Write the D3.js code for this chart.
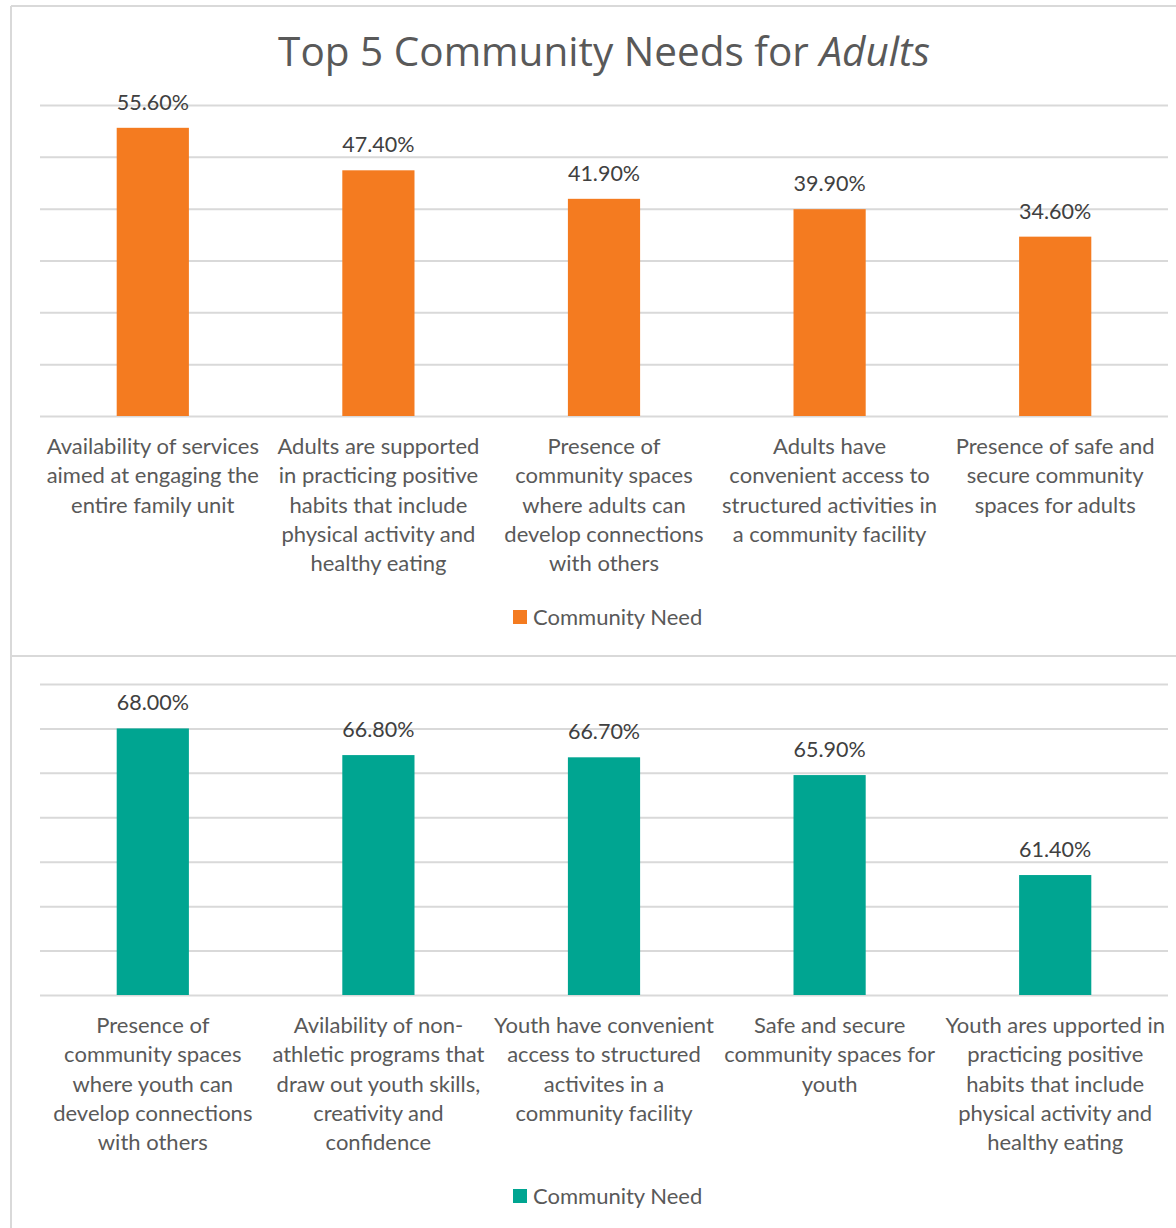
<!DOCTYPE html>
<html>
<head>
<meta charset="utf-8">
<script src="https://cdn.jsdelivr.net/npm/d3@7"></script>
<style>
  html, body { margin: 0; padding: 0; background: #fff; }
  svg { display: block; }
</style>
</head>
<body>
<svg id="chart" width="1176" height="1228"></svg>
<script>
// Adults panel
const adultCategories = [
  ["Availability of services", "aimed at engaging the", "entire family unit"],
  ["Adults are supported", "in practicing positive", "habits that include", "physical activity and", "healthy eating"],
  ["Presence of", "community spaces", "where adults can", "develop connections", "with others"],
  ["Adults have", "convenient access to", "structured activities in", "a community facility"],
  ["Presence of safe and", "secure community", "spaces for adults"]
];
const adultValues = [55.6, 47.4, 41.9, 39.9, 34.6];
const adultTicks = [0, 10, 20, 30, 40, 50, 60];

// Youth panel
const youthCategories = [
  ["Presence of", "community spaces", "where youth can", "develop connections", "with others"],
  ["Avilability of non-", "athletic programs that", "draw out youth skills,", "creativity and", "confidence"],
  ["Youth have convenient", "access to structured", "activites in a", "community facility"],
  ["Safe and secure", "community spaces for", "youth"],
  ["Youth ares upported in", "practicing positive", "habits that include", "physical activity and", "healthy eating"]
];
const youthValues = [68.0, 66.8, 66.7, 65.9, 61.4];
const youthTicks = [56, 58, 60, 62, 64, 66, 68, 70];

const seriesName = "Community Need";

const svg = d3.select("#chart");
const textColor = "#595959";
const gridColor = "#d9d9d9";
const labelFont = "Lato, 'Open Sans', sans-serif";

// panel frame
svg.append("line").attr("x1", 11).attr("x2", 11).attr("y1", 6).attr("y2", 1228)
  .attr("stroke", gridColor).attr("stroke-width", 2);
svg.append("line").attr("x1", 11).attr("x2", 1176).attr("y1", 6).attr("y2", 6)
  .attr("stroke", gridColor).attr("stroke-width", 2);
svg.append("line").attr("x1", 11).attr("x2", 1176).attr("y1", 656).attr("y2", 656)
  .attr("stroke", gridColor).attr("stroke-width", 2);

// title
const title = svg.append("text")
  .attr("x", 604).attr("y", 66)
  .attr("text-anchor", "middle")
  .attr("fill", textColor)
  .style("font-family", "'Open Sans', sans-serif")
  .style("font-size", "40.5px");
title.append("tspan").text("Top 5 Community Needs for ");
title.append("tspan").style("font-style", "italic").text("Adults");

function drawPanel(cfg) {
  const left = 40, right = 1168;
  const x = d3.scaleBand()
    .domain(d3.range(cfg.values.length))
    .range([left, right])
    .padding(0);
  const barW = x.bandwidth() * 0.32;
  const y = d3.scaleLinear()
    .domain(d3.extent(cfg.ticks))
    .range([cfg.bottom, cfg.top]);

  const g = svg.append("g");

  // gridlines via axis
  const axis = d3.axisLeft(y).tickValues(cfg.ticks).tickSize(-(right - left)).tickFormat("");
  const ag = g.append("g").attr("transform", `translate(${left},0)`).call(axis);
  ag.select(".domain").remove();
  ag.selectAll(".tick line").attr("stroke", gridColor).attr("stroke-width", 2);

  // bars
  g.selectAll("rect.bar").data(cfg.values).enter().append("rect")
    .attr("class", "bar")
    .attr("x", (d, i) => x(i) + (x.bandwidth() - barW) / 2)
    .attr("width", barW)
    .attr("y", d => y(d))
    .attr("height", d => y(y.domain()[0]) - y(d))
    .attr("fill", cfg.color);

  // value labels
  g.selectAll("text.val").data(cfg.values).enter().append("text")
    .attr("class", "val")
    .attr("x", (d, i) => x(i) + x.bandwidth() / 2)
    .attr("y", d => y(d) - 18)
    .attr("text-anchor", "middle")
    .attr("fill", "#404040")
    .style("font-family", labelFont)
    .style("font-size", "21.5px")
    .text(d => d.toFixed(2) + "%");

  // category labels
  cfg.categories.forEach((lines, i) => {
    const t = g.append("text")
      .attr("x", x(i) + x.bandwidth() / 2)
      .attr("y", cfg.bottom + 38)
      .attr("text-anchor", "middle")
      .attr("fill", textColor)
      .style("font-family", labelFont)
      .style("font-size", "22px");
    lines.forEach((ln, k) => {
      t.append("tspan")
        .attr("x", x(i) + x.bandwidth() / 2)
        .attr("dy", k === 0 ? 0 : 29.3)
        .text(ln);
    });
  });

  // legend
  const lg = g.append("g").attr("transform", `translate(513,${cfg.legendY})`);
  lg.append("rect").attr("x", 0).attr("y", -15).attr("width", 14).attr("height", 14).attr("fill", cfg.color);
  lg.append("text").attr("x", 20).attr("y", 0)
    .attr("fill", textColor)
    .style("font-family", labelFont)
    .style("font-size", "22px")
    .text(seriesName);
}

drawPanel({
  categories: adultCategories, values: adultValues, ticks: adultTicks,
  top: 105, bottom: 416, color: "#f47b20", legendY: 625
});
drawPanel({
  categories: youthCategories, values: youthValues, ticks: youthTicks,
  top: 684, bottom: 995, color: "#00a591", legendY: 1204
});
</script>
</body>
</html>
